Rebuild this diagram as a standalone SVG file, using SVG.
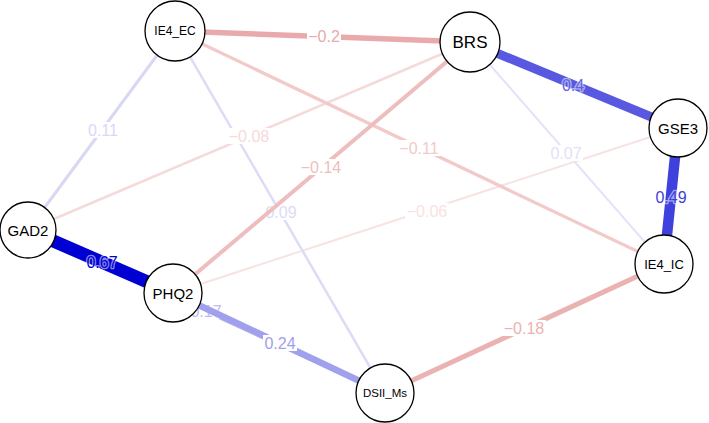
<svg xmlns="http://www.w3.org/2000/svg" width="709" height="423" viewBox="0 0 709 423">
<style>
.e{fill:none;stroke-linecap:butt}
.l{font-family:"Liberation Sans",Arial,sans-serif;font-size:16px;text-anchor:middle;dominant-baseline:central}
.h{stroke:#fff;stroke-opacity:0.55;stroke-width:2.5;paint-order:stroke;stroke-linejoin:round}
.bg{fill:#fff}
.n circle{fill:#fff;stroke:#000;stroke-width:1.3}
.n text{font-family:"Liberation Sans",Arial,sans-serif;text-anchor:middle;dominant-baseline:central;fill:#000}
</style>
<rect width="709" height="423" fill="#fff"/>
<g id="edges">
  <!-- -0.06 GSE3-PHQ2 -->
  <line class="e" x1="678" y1="128" x2="173" y2="293" stroke="#F8E2E2" stroke-width="2"/>
  <rect class="bg" x="405" y="203" width="44" height="16"/>
  <text class="l" x="427" y="211" fill="#F8E2E2">−0.06</text>
  <!-- 0.07 BRS-IE4_IC -->
  <line class="e" x1="470" y1="42" x2="664" y2="264" stroke="#E2E2F8" stroke-width="2"/>
  <rect class="bg" x="549" y="145" width="34" height="16"/>
  <text class="l" x="566" y="153" fill="#E2E2F8">0.07</text>
  <!-- -0.08 BRS-GAD2 -->
  <line class="e" x1="470" y1="42" x2="28" y2="230" stroke="#F6DADA" stroke-width="2.5"/>
  <!-- 0.09 IE4_EC-DSII_Ms -->
  <line class="e" x1="175" y1="31" x2="385" y2="393" stroke="#DCDCF6" stroke-width="2.5"/>
  <rect class="bg" x="227" y="128" width="44" height="16"/>
  <text class="l" x="249" y="136" fill="#F6DADA">−0.08</text>
  <rect class="bg" x="264" y="204" width="34" height="16"/>
  <text class="l" x="281" y="212" fill="#DCDCF6">0.09</text>
  <!-- 0.11 IE4_EC-GAD2 -->
  <line class="e" x1="175" y1="31" x2="28" y2="230" stroke="#D8D8F5" stroke-width="3"/>
  <rect class="bg" x="86" y="122" width="34" height="16"/>
  <text class="l" x="103" y="130" fill="#D8D8F5">0.11</text>
  <!-- -0.11 IE4_EC-IE4_IC -->
  <line class="e" x1="175" y1="31" x2="664" y2="264" stroke="#F2CACA" stroke-width="3.2"/>
  <rect class="bg" x="397" y="140" width="44" height="16"/>
  <text class="l" x="419" y="148" fill="#F2CACA">−0.11</text>
  <!-- -0.14 BRS-PHQ2 -->
  <line class="e" x1="470" y1="42" x2="173" y2="293" stroke="#EEBEBE" stroke-width="4"/>
  <rect class="bg" x="299" y="159" width="44" height="16"/>
  <text class="l" x="321" y="167" fill="#EEBEBE">−0.14</text>
  <!-- 0.17 GAD2-DSII_Ms -->
  <line class="e" x1="28" y1="230" x2="385" y2="393" stroke="#BCBCF0" stroke-width="4"/>
  <rect class="bg" x="189" y="303" width="34" height="16"/>
  <text class="l" x="206" y="311" fill="#BCBCF0">0.17</text>
  <!-- -0.18 IE4_IC-DSII_Ms -->
  <line class="e" x1="664" y1="264" x2="385" y2="393" stroke="#EBB2B2" stroke-width="5"/>
  <rect class="bg" x="502" y="320" width="44" height="16"/>
  <text class="l" x="524" y="328" fill="#EBB2B2">−0.18</text>
  <!-- -0.2 IE4_EC-BRS -->
  <line class="e" x1="175" y1="31" x2="470" y2="42" stroke="#E8AAAA" stroke-width="5.5"/>
  <rect class="bg" x="307" y="28" width="34" height="16"/>
  <text class="l" x="324" y="36" fill="#E8AAAA">−0.2</text>
  <!-- 0.24 PHQ2-DSII_Ms -->
  <line class="e" x1="173" y1="293" x2="385" y2="393" stroke="#A0A0EC" stroke-width="6.5"/>
  <rect class="bg" x="263" y="335" width="34" height="16"/>
  <text class="l" x="280" y="343" fill="#A0A0EC">0.24</text>
  <!-- 0.4 BRS-GSE3 -->
  <line class="e" x1="470" y1="42" x2="678" y2="128" stroke="#5858E0" stroke-width="9"/>
  <text class="l h" x="573" y="85" fill="#6262E4">0.4</text>
  <!-- 0.49 GSE3-IE4_IC -->
  <line class="e" x1="678" y1="128" x2="664" y2="264" stroke="#4040DC" stroke-width="10.5"/>
  <text class="l h" x="671" y="197" fill="#4040DC">0.49</text>
  <!-- 0.67 GAD2-PHQ2 -->
  <line class="e" x1="28" y1="230" x2="173" y2="293" stroke="#0000D2" stroke-width="13"/>
  <text class="l h" x="102" y="262" fill="#0000D2">0.67</text>
</g>
<g id="IE4_EC" class="n"><circle cx="175" cy="31" r="30"/><text x="175" y="31" font-size="12">IE4_EC</text></g>
<g id="BRS" class="n"><circle cx="470" cy="42" r="30"/><text x="470" y="42" font-size="17">BRS</text></g>
<g id="GSE3" class="n"><circle cx="678" cy="128" r="29"/><text x="678" y="128" font-size="15">GSE3</text></g>
<g id="IE4_IC" class="n"><circle cx="664" cy="264" r="29"/><text x="664" y="264" font-size="13">IE4_IC</text></g>
<g id="DSII_Ms" class="n"><circle cx="385" cy="393" r="29"/><text x="385" y="393" font-size="11.5">DSII_Ms</text></g>
<g id="PHQ2" class="n"><circle cx="173" cy="293" r="29"/><text x="173" y="293" font-size="15">PHQ2</text></g>
<g id="GAD2" class="n"><circle cx="28" cy="230" r="28"/><text x="28" y="230" font-size="15">GAD2</text></g>
</svg>
